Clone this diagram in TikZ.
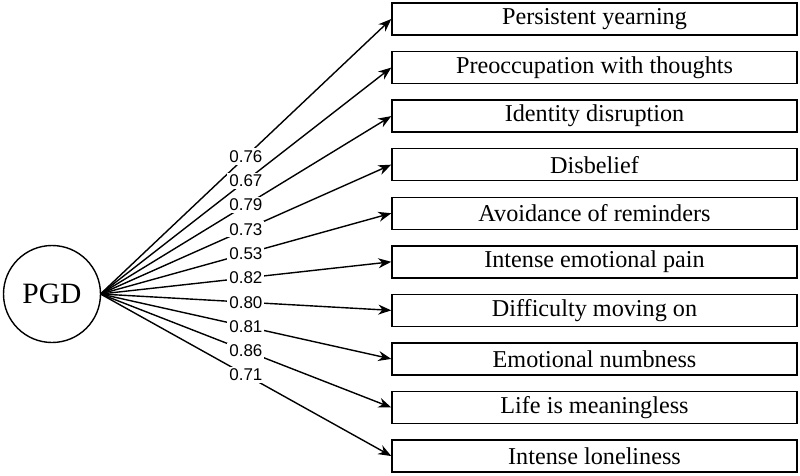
\documentclass[tikz,border=0pt]{standalone}
\usepackage{fontspec}
\setmainfont{Liberation Serif}
\newfontfamily\labfont{Liberation Sans}
\usetikzlibrary{arrows.meta}
\begin{document}
\begin{tikzpicture}[x=1pt,y=-1pt,
  itembox/.style={draw, line width=1.4pt, minimum width=405pt, minimum height=32pt, inner sep=0pt, font=\fontsize{24.2}{26}\selectfont},
  latent/.style={draw, circle, line width=1.4pt, minimum size=97pt, inner sep=0pt, font=\fontsize{29.5}{31}\selectfont},
  path arrow/.style={line width=1.4pt, -{Stealth[length=13pt,width=10pt]}},
  lab/.style={fill=white, inner sep=2pt, font=\labfont\fontsize{17}{18}\selectfont}]
\useasboundingbox (0,0) rectangle (800,476);
\node[latent] (pgd) at (52,294) {PGD};
\coordinate (src) at (100.5,294);
\foreach \i/\t/\w in {1/Persistent yearning/0.76, 2/Preoccupation with thoughts/0.67, 3/Identity disruption/0.79, 4/Disbelief/0.73, 5/Avoidance of reminders/0.53, 6/Intense emotional pain/0.82, 7/Difficulty moving on/0.80, 8/Emotional numbness/0.81, 9/Life is meaningless/0.86, 10/Intense loneliness/0.71}{
  \node[itembox] (b\i) at (594.5,{19+48.56*(\i-1)}) {\t};
  \draw[path arrow] (src) -- node[lab, pos=0.5] {\w} (b\i.west);
}
\end{tikzpicture}
\end{document}
